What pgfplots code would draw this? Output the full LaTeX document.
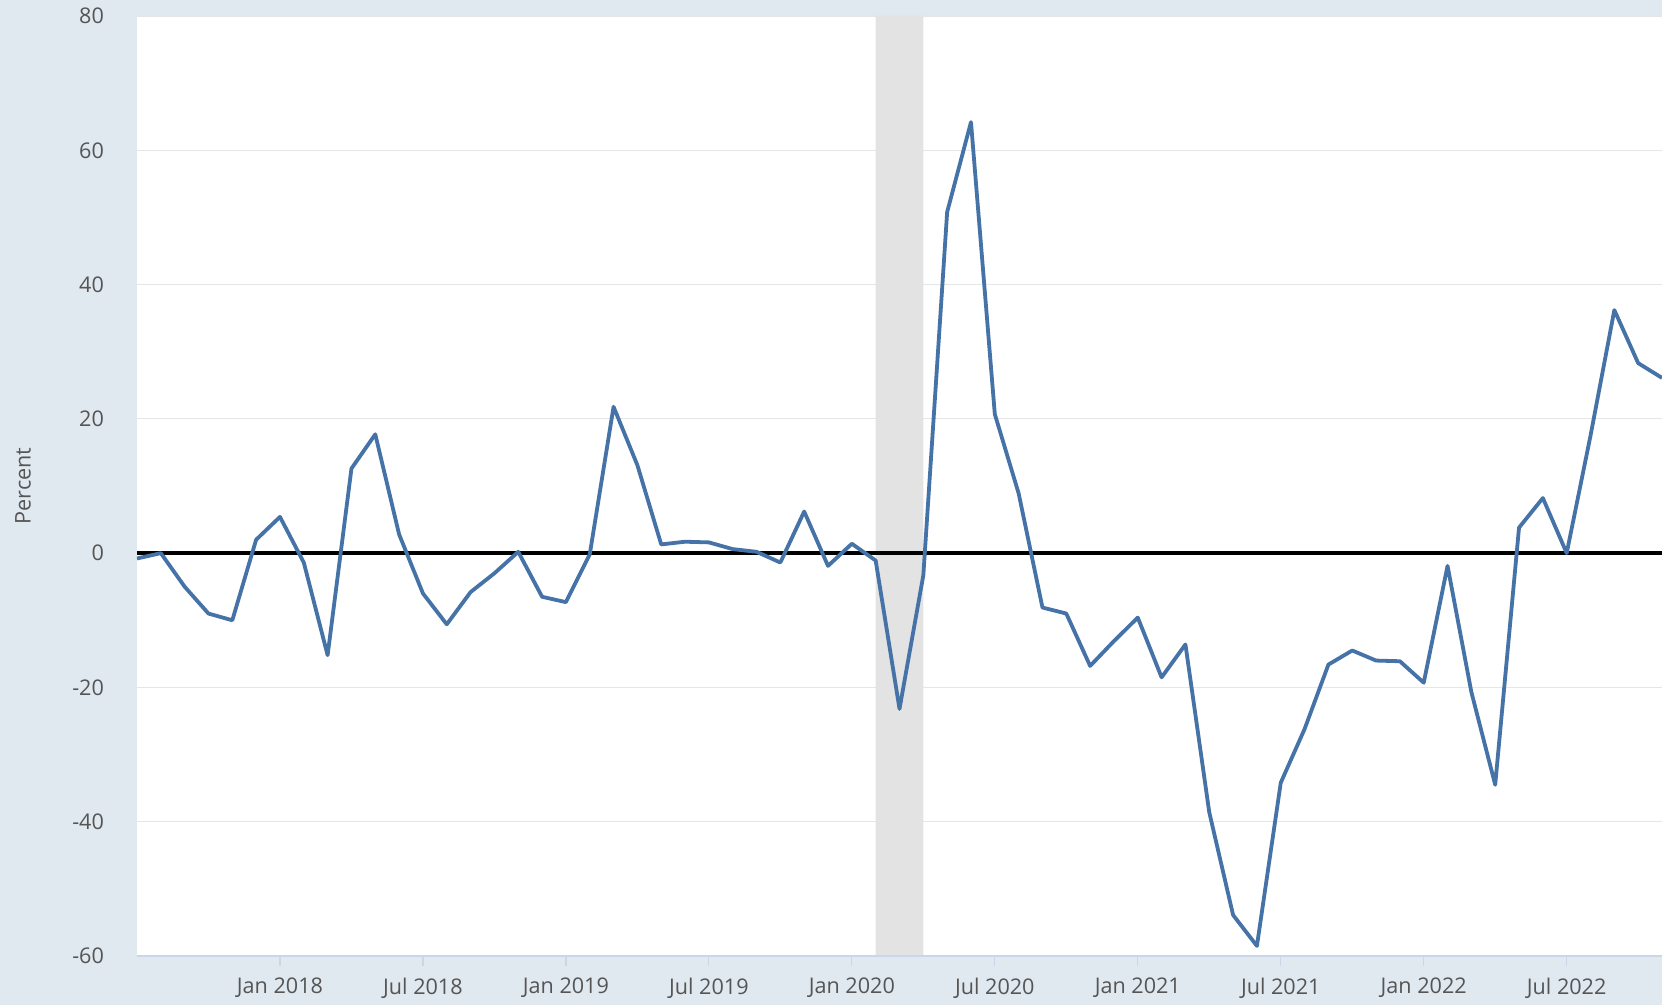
\documentclass[border=0pt]{standalone}
\usepackage{fontspec}
\setmainfont{Open Sans}
\usepackage{pgfplots}
\pgfplotsset{compat=1.18}
\definecolor{bgc}{HTML}{E1E9F0}
\definecolor{linec}{HTML}{4572A7}
\definecolor{shadec}{HTML}{E3E3E3}
\definecolor{gridc}{HTML}{E6E6E6}
\definecolor{axc}{HTML}{CCD6EB}
\definecolor{txt}{HTML}{555555}
\begin{document}
\begin{tikzpicture}
\fill[bgc] (-68.5pt,-24.5pt) rectangle (762.5pt,478pt);
\begin{axis}[
  at={(0,0)}, anchor=south west,
  scale only axis, width=762.5pt, height=470pt,
  xmin=-6, xmax=58, ymin=-60, ymax=80,
  axis background/.style={fill=white},
  axis line style={draw=none},
  ytick={-60,-40,...,80},
  xtick={0,6,...,54},
  xticklabels={Jan 2018,Jul 2018,Jan 2019,Jul 2019,Jan 2020,Jul 2020,Jan 2021,Jul 2021,Jan 2022,Jul 2022},
  ymajorgrids, grid style={gridc, line width=0.6pt},
  tick align=outside, xtick pos=bottom, ytick pos=left,
  major tick length=5pt,
  xtick style={axc, line width=0.6pt},
  ytick style={draw=none},
  tick label style={font=\fontsize{10.8}{12}\selectfont, text=txt},
  /pgf/number format/assume math mode=true,
  yticklabel style={anchor=east, xshift=-8pt},
  xticklabel style={anchor=north, yshift=-2.6pt},
  ylabel={Percent},
  ylabel style={font=\fontsize{10.8}{12}\selectfont, text=txt, at={([xshift=-57pt]axis description cs:0,0.5)}, anchor=center, rotate=0},
  clip mode=individual,
]
\addplot[draw=none, fill=shadec] coordinates {(25,-60) (27,-60) (27,80) (25,80)} \closedcycle;
\draw[axc, line width=0.8pt] (rel axis cs:0,0) -- (rel axis cs:1,0);
\addplot[black, line width=1.8pt] coordinates {(-6,0) (58,0)};
\addplot[linec, line width=1.9pt, line join=round] coordinates {
(-6,-0.8) (-5,0) (-4,-5) (-3,-9) (-2,-10) (-1,2) (0,5.4) (1,-1.4) (2,-15.2) (3,12.6)
(4,17.7) (5,2.8) (6,-6) (7,-10.6) (8,-5.8) (9,-3) (10,0.2) (11,-6.5) (12,-7.3) (13,-0.2)
(14,21.8) (15,13.1) (16,1.3) (17,1.7) (18,1.6) (19,0.6) (20,0.2) (21,-1.4) (22,6.2) (23,-1.9)
(24,1.4) (25,-1.1) (26,-23.2) (27,-3.3) (28,50.8) (29,64.2) (30,20.7) (31,8.9) (32,-8.1) (33,-9)
(34,-16.8) (35,-13.1) (36,-9.6) (37,-18.5) (38,-13.6) (39,-38.6) (40,-53.9) (41,-58.5) (42,-34.2) (43,-26.2)
(44,-16.6) (45,-14.5) (46,-16) (47,-16.1) (48,-19.3) (49,-1.9) (50,-20.7) (51,-34.5) (52,3.8) (53,8.2)
(54,0) (55,17.5) (56,36.2) (57,28.3) (58,26.1)
};
\end{axis}
\pgfresetboundingbox
\useasboundingbox (-68.5pt,-24.5pt) rectangle (762.5pt,478pt);
\end{tikzpicture}
\end{document}
